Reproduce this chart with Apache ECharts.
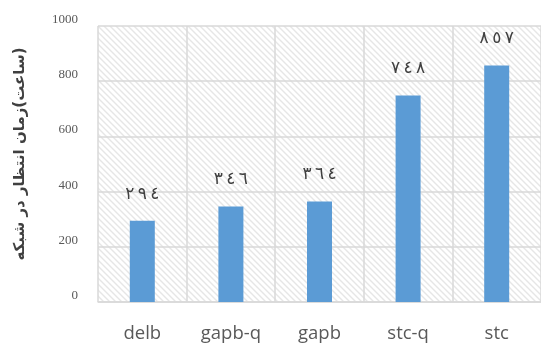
<!DOCTYPE html>
<html>
<head>
<meta charset="utf-8">
<script src="https://cdn.jsdelivr.net/npm/echarts@6/dist/echarts.min.js"></script>
<style>
  html, body { margin: 0; padding: 0; background: #fff; }
  #chart { width: 541px; height: 343px; }
</style>
</head>
<body>
<div id="chart"></div>
<script>
// Categories and waiting times (hours)
const categories = ['delb', 'gapb-q', 'gapb', 'stc-q', 'stc'];
const waitHours = [294, 346, 364, 748, 857];
const yTicks = [0, 200, 400, 600, 800, 1000];
const yAxisTitle = '\u200F(ساعت)زمان انتظار در شبکه';

// Convert a number to Arabic-Indic digits, spaced apart but kept in reading order
function toArabicDigits(n) {
  const d = '٠١٢٣٤٥٦٧٨٩';
  return String(n).split('').map(c => d[+c]).join('\u200E\u2009\u200E');
}

// Diagonal hatch tile for the plot background
function hatchTile() {
  const s = 6;
  const c = document.createElement('canvas');
  c.width = s; c.height = s;
  const g = c.getContext('2d');
  g.fillStyle = '#ffffff';
  g.fillRect(0, 0, s, s);
  g.strokeStyle = '#e6e6e6';
  g.lineWidth = 1.4;
  g.beginPath();
  g.moveTo(-1, -1); g.lineTo(s + 1, s + 1);
  g.moveTo(-1, s - 1); g.lineTo(1, s + 1);
  g.moveTo(s - 1, -1); g.lineTo(s + 1, 1);
  g.stroke();
  return c;
}

const chart = echarts.init(document.getElementById('chart'), null, { renderer: 'canvas' });
chart.setOption({
  animation: false,
  grid: {
    left: 98, top: 26, width: 455, bottom: 39,
    show: true,
    borderWidth: 0,
    backgroundColor: { image: hatchTile(), repeat: 'repeat' }
  },
  xAxis: {
    type: 'category',
    data: categories,
    axisLine: { show: true, lineStyle: { color: '#d9d9d9', width: 1.5 } },
    axisTick: { show: false },
    splitLine: { show: true, lineStyle: { color: '#d9d9d9', width: 1.5 } },
    axisLabel: { margin: 22, color: '#595959', fontFamily: 'Open Sans', fontSize: 18.5 }
  },
  yAxis: {
    type: 'value',
    min: yTicks[0],
    max: yTicks[yTicks.length - 1],
    interval: 200,
    name: yAxisTitle,
    nameLocation: 'middle',
    nameGap: 70,
    nameTextStyle: { fontFamily: 'DejaVu Sans', fontWeight: 'bold', fontSize: 15, color: '#404040', padding: [0, 0, 0, 20] },
    axisLine: { show: false },
    axisTick: { show: false },
    splitLine: { lineStyle: { color: '#d9d9d9', width: 1.5 } },
    axisLabel: {
      margin: 20, color: '#595959', fontFamily: 'Liberation Serif', fontSize: 13,
      verticalAlign: 'bottom',
      formatter: v => String(v)
    }
  },
  series: [{
    type: 'bar',
    data: waitHours,
    barWidth: 25,
    itemStyle: { color: '#5b9bd5' },
    label: {
      show: true,
      position: 'top',
      distance: 18,
      color: '#404040',
      fontFamily: 'DejaVu Sans',
      fontSize: 17,
      formatter: p => toArabicDigits(p.value)
    }
  }]
});
</script>
</body>
</html>
